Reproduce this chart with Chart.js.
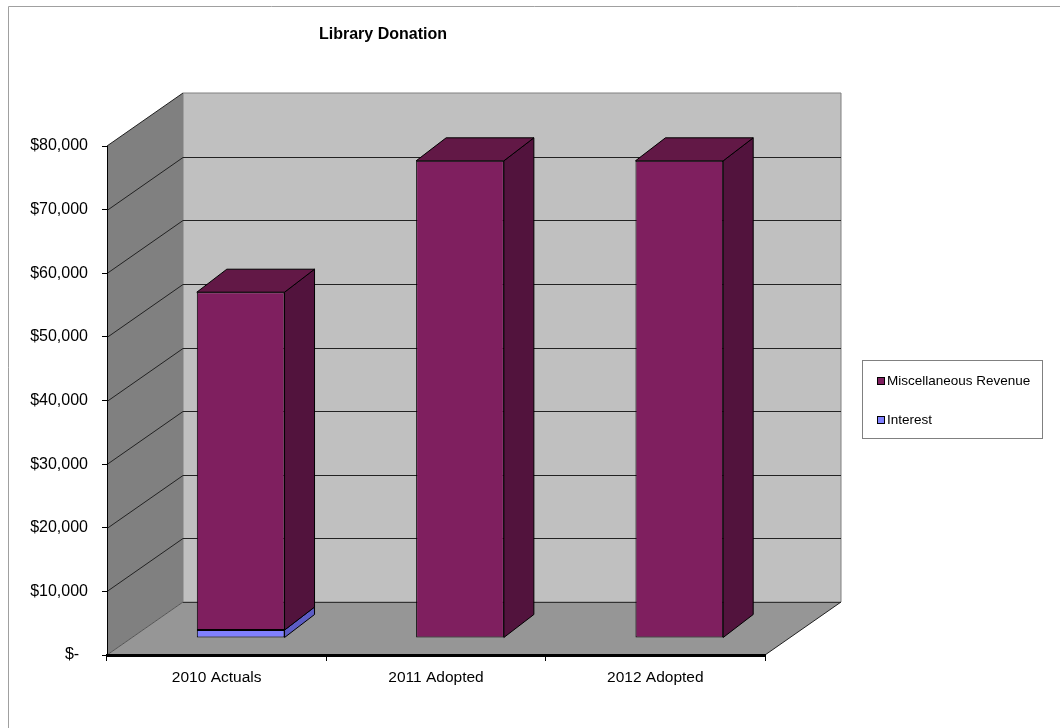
<!DOCTYPE html>
<html>
<head>
<meta charset="utf-8">
<title>Library Donation</title>
<script src="https://cdn.jsdelivr.net/npm/chart.js@4.4.1/dist/chart.umd.min.js"></script>
<style>
  body { margin: 0; background: #fff; }
  canvas { display: block; }
</style>
</head>
<body>
<canvas id="myChart" width="1060" height="728"></canvas>
<script>
const categories = ['2010 Actuals', '2011 Adopted', '2012 Adopted']
const miscRevenue = [53100, 75000, 75000]
const interest = [1250, 0, 0]
const yMax = 80000
const yStep = 10000

const font = '"Liberation Sans", Arial, sans-serif'

// oblique 3d look: depth of the walls, and where the bars sit inside it
const wallDepth = { dx: 76, dy: -53 }
const barShift = { dx: 24, dy: -17 }
const barDepth = { dx: 30, dy: -23 }

function poly(ctx, pts, fill, stroke) {
  ctx.beginPath()
  ctx.moveTo(pts[0][0], pts[0][1])
  for (let i = 1; i < pts.length; i++) ctx.lineTo(pts[i][0], pts[i][1])
  ctx.closePath()
  if (fill) { ctx.fillStyle = fill; ctx.fill() }
  if (stroke) { ctx.strokeStyle = stroke; ctx.lineWidth = 1; ctx.stroke() }
}

function line(ctx, x1, y1, x2, y2, color) {
  ctx.beginPath()
  ctx.moveTo(x1, y1)
  ctx.lineTo(x2, y2)
  ctx.strokeStyle = color
  ctx.lineWidth = 1
  ctx.stroke()
}

const threeD = {
  id: 'threeD',
  beforeDraw(chart) {
    const ctx = chart.ctx
    const y = chart.scales.y
    const L = chart.chartArea.left, R = chart.chartArea.right
    const T = y.getPixelForValue(yMax), B = y.getPixelForValue(0)
    const dx = wallDepth.dx, dy = wallDepth.dy
    ctx.save()
    ctx.fillStyle = '#fff'
    ctx.fillRect(0, 0, chart.width, chart.height)
    // outer frame
    line(ctx, 8.5, 6.5, chart.width, 6.5, '#a0a0a0')
    line(ctx, 8.5, 6.5, 8.5, chart.height, '#a0a0a0')

    // back wall, side wall, floor
    poly(ctx, [[L + dx, T + dy], [R + dx, T + dy], [R + dx, B + dy], [L + dx, B + dy]], '#c0c0c0', '#808080')
    poly(ctx, [[L, T], [L + dx, T + dy], [L + dx, B + dy], [L, B]], '#808080', null)
    poly(ctx, [[L, B], [L + dx, B + dy], [R + dx, B + dy], [R, B]], '#969696', null)

    // gridlines on the walls
    for (let v = yStep; v < yMax; v += yStep) {
      const p = Math.round(y.getPixelForValue(v)) + 0.5
      line(ctx, L + dx, p + dy, R + dx, p + dy, '#222')
      line(ctx, L, p, L + dx, p + dy, '#222')
    }
    line(ctx, L + dx, Math.round(B + dy) + 0.5, R + dx, Math.round(B + dy) + 0.5, '#333')
    line(ctx, L, B, L + dx, B + dy, '#555')
    line(ctx, L, T, L + dx, T + dy, '#222')
    line(ctx, R, B, R + dx, B + dy, '#222')
    ctx.restore()
  },
  beforeDatasetsDraw(chart) {
    chart.ctx.save()
    chart.ctx.translate(barShift.dx, barShift.dy)
  },
  afterDatasetsDraw(chart) {
    const ctx = chart.ctx
    const sets = chart.data.datasets
    for (let i = 0; i < sets.length; i++) {
      const meta = chart.getDatasetMeta(i)
      meta.data.forEach((el, j) => {
        if (!sets[i].data[j]) return
        const left = el.x - el.width / 2, right = el.x + el.width / 2
        const top = Math.min(el.y, el.base), bot = Math.max(el.y, el.base)
        const bx = barDepth.dx, by = barDepth.dy
        poly(ctx, [[right, top], [right + bx, top + by], [right + bx, bot + by], [right, bot]], sets[i].sideColor, '#000')
        let above = false
        for (let k = i + 1; k < sets.length; k++) if (sets[k].data[j]) above = true
        if (!above) {
          poly(ctx, [[left, top], [left + bx, top + by], [right + bx, top + by], [right, top]], sets[i].topColor, '#000')
        }
      })
    }
    ctx.restore()
  },
  afterDraw(chart) {
    const ctx = chart.ctx
    ctx.save()
    // title
    ctx.fillStyle = '#000'
    ctx.font = 'bold 16px ' + font
    ctx.textAlign = 'center'
    ctx.textBaseline = 'middle'
    ctx.fillText('Library Donation', 383, 35)

    // legend, series listed top to bottom as stacked
    ctx.strokeStyle = '#808080'
    ctx.lineWidth = 1
    ctx.strokeRect(862.5, 360.5, 180, 78)
    ctx.font = '13.5px ' + font
    ctx.textAlign = 'left'
    const sets = chart.data.datasets.slice().reverse()
    sets.forEach((ds, i) => {
      const cy = 381 + i * 39
      ctx.fillStyle = ds.backgroundColor
      ctx.fillRect(877, cy - 4, 8, 8)
      ctx.strokeStyle = '#000'
      ctx.strokeRect(877.5, cy - 3.5, 7, 7)
      ctx.fillStyle = '#000'
      ctx.fillText(ds.label, 887, cy)
    })
    ctx.restore()
  }
}

const data = {
  labels: categories,
  datasets: [
    {
      label: 'Interest',
      data: interest,
      backgroundColor: '#8080ff',
      sideColor: '#5c5cc4',
      topColor: '#6a6ae0',
      borderColor: '#000',
      borderWidth: 1,
      borderSkipped: false
    },
    {
      label: 'Miscellaneous Revenue',
      data: miscRevenue,
      backgroundColor: '#7f1f5f',
      sideColor: '#52133d',
      topColor: '#621846',
      borderColor: '#000',
      borderWidth: 1,
      borderSkipped: false
    }
  ]
}

const config = {
  type: 'bar',
  data: data,
  options: {
    responsive: false,
    animation: false,
    devicePixelRatio: 1,
    layout: { padding: { top: 146, right: 295, bottom: 0, left: 0 } },
    datasets: { bar: { categoryPercentage: 1, barPercentage: 0.4, clip: false } },
    plugins: {
      legend: { display: false },
      title: { display: false },
      tooltip: { enabled: false }
    },
    scales: {
      x: {
        stacked: true,
        afterFit: s => { s.height = 73 },
        grid: { display: true, drawOnChartArea: false, drawTicks: true, tickLength: 6, color: '#000' },
        border: { display: true, color: '#000', width: 3 },
        ticks: { color: '#000', padding: 7, font: { family: font, size: 15.5 } }
      },
      y: {
        stacked: true,
        min: 0,
        max: yMax,
        afterFit: s => { s.width = 107 },
        grid: { display: true, drawOnChartArea: false, drawTicks: true, tickLength: 5, color: '#000' },
        border: { display: true, color: '#000', width: 1 },
        ticks: {
          stepSize: yStep,
          color: '#000',
          padding: 14,
          font: { family: font, size: 16 },
          callback: v => v === 0 ? '$-  ' : '$' + v.toLocaleString('en-US')
        }
      }
    }
  },
  plugins: [threeD]
}

const myChart = new Chart(document.getElementById('myChart'), config)
</script>
</body>
</html>
